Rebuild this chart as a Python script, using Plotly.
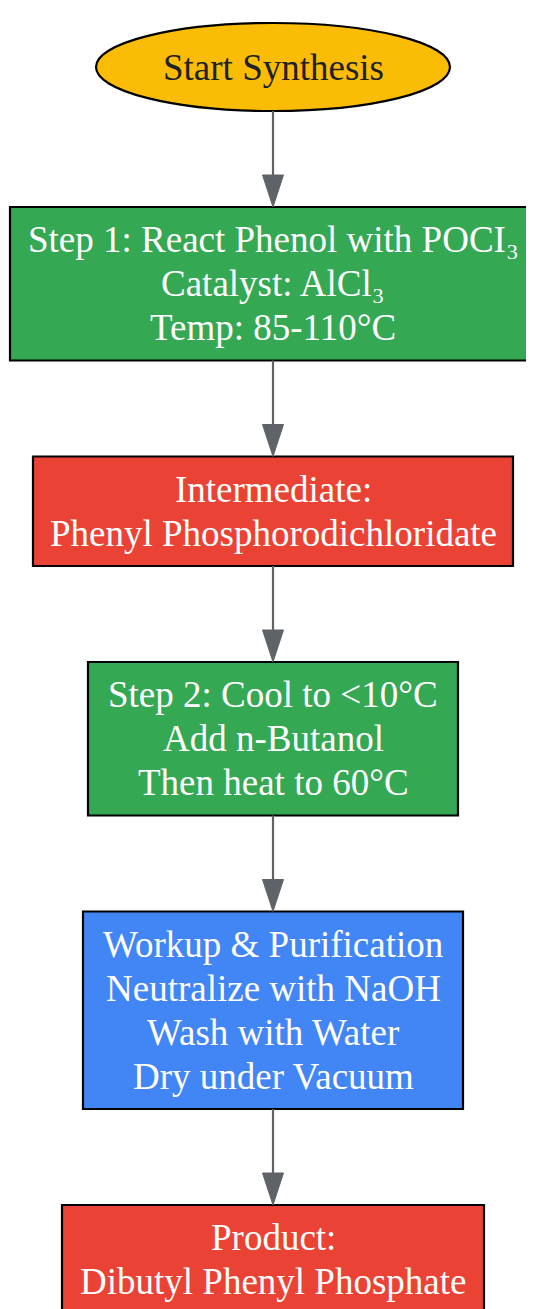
import plotly.graph_objects as go

# ---------------- data ----------------
node_lines = [
    ["Start Synthesis"],
    ["Step 1: React Phenol with POCI₃", "Catalyst: AlCl₃", "Temp: 85-110°C"],
    ["Intermediate:", "Phenyl Phosphorodichloridate"],
    ["Step 2: Cool to <10°C", "Add n-Butanol", "Then heat to 60°C"],
    ["Workup & Purification", "Neutralize with NaOH", "Wash with Water", "Dry under Vacuum"],
    ["Product:", "Dibutyl Phenyl Phosphate"],
]
node_kinds = ["start", "step", "intermediate", "step", "workup", "product"]
edges = [(0, 1), (1, 2), (2, 3), (3, 4), (4, 5)]

# ---------------- style / layout ----------------
W, H = 534, 1309
OFF = 8  # page body margin
CX = 273
FONT = "Liberation Serif, Times New Roman, serif"
FS = 37
LINE_H = 44
GAP = 96
fill = {"start": "#FBBC05", "step": "#34A853", "intermediate": "#EA4335",
        "workup": "#4285F4", "product": "#EA4335"}
txt_col = {"start": "#202124"}
node_w = [354, 526, 480, 370, 380, 422]
ARROW = "#5F6368"

fig = go.Figure()
shapes, annotations = [], []

# vertical positions of the nodes
tops, bottoms = [], []
y = 23
for i, lines in enumerate(node_lines):
    h = 88 if node_kinds[i] == "start" else LINE_H * len(lines) + 21.5
    tops.append(y)
    bottoms.append(y + h)
    y = y + h + GAP

for i, lines in enumerate(node_lines):
    kind = node_kinds[i]
    x0, x1 = CX - node_w[i] / 2, CX + node_w[i] / 2
    y0, y1 = tops[i], bottoms[i]
    shapes.append(dict(type="circle" if kind == "start" else "rect",
                       xref="x", yref="y", x0=x0, x1=x1, y0=y0, y1=y1,
                       fillcolor=fill[kind], line=dict(color="black", width=2.2),
                       layer="below"))
    cy = (y0 + y1) / 2
    n = len(lines)
    for j, t in enumerate(lines):
        ly = cy + (j - (n - 1) / 2) * LINE_H
        annotations.append(dict(x=CX, y=ly, xref="x", yref="y", text=t,
                                showarrow=False, xanchor="center", yanchor="middle",
                                font=dict(family=FONT, size=FS,
                                          color=txt_col.get(kind, "white"))))

# edges
AH, AW = 32, 21
for s, t in edges:
    ys, yt = bottoms[s], tops[t]
    shapes.append(dict(type="line", xref="x", yref="y", x0=CX, x1=CX, y0=ys, y1=yt - AH + 2,
                       line=dict(color=ARROW, width=2.2), layer="below"))
    shapes.append(dict(type="path", xref="x", yref="y",
                       path=f"M {CX - AW/2} {yt - AH} L {CX + AW/2} {yt - AH} L {CX} {yt} Z",
                       fillcolor=ARROW, line=dict(color=ARROW, width=1), layer="below"))

fig.update_layout(
    width=W, height=H, margin=dict(l=0, r=0, t=0, b=0),
    paper_bgcolor="white", plot_bgcolor="white",
    xaxis=dict(range=[OFF, W + OFF], visible=False, fixedrange=True),
    yaxis=dict(range=[H + OFF, OFF], visible=False, fixedrange=True),
    shapes=shapes, annotations=annotations, showlegend=False,
)
fig.write_html("out.html")
